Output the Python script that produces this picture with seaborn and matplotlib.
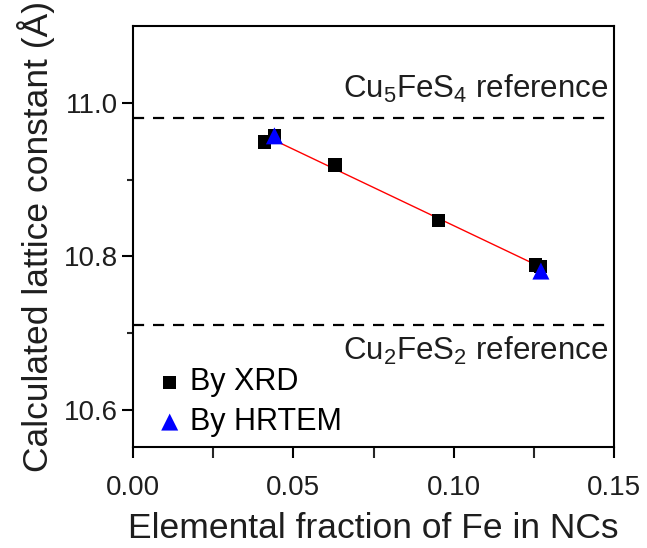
import numpy as np
import pandas as pd
import matplotlib
matplotlib.use("Agg")
import matplotlib.pyplot as plt
from matplotlib.ticker import MultipleLocator, FixedLocator
import seaborn as sns

# data
xrd_x = [0.0409, 0.0441, 0.0630, 0.0952, 0.1254, 0.1271]
xrd_y = [10.949, 10.957, 10.919, 10.847, 10.789, 10.787]
tem_x = [0.0441, 0.1272]
tem_y = [10.957, 10.781]
fit_range = [0.041, 0.1254]
ref_values = [10.980, 10.711]
ref_labels = ["Cu$_5$FeS$_4$ reference", "Cu$_2$FeS$_2$ reference"]

sns.set_theme(style="ticks")
plt.rcParams['font.family'] = ['Liberation Sans', 'DejaVu Sans']
plt.rcParams['mathtext.fontset'] = 'custom'
plt.rcParams['mathtext.rm'] = 'Liberation Sans'
plt.rcParams['mathtext.it'] = 'Liberation Sans'

TXT = "#1e1e1e"

fig = plt.figure(figsize=(6.47, 5.48), dpi=100)
ax = fig.add_axes([0.2056, 0.1843, 0.949 - 0.2056, 0.9526 - 0.1843])

df_xrd = pd.DataFrame({"x": xrd_x, "y": xrd_y})
df_tem = pd.DataFrame({"x": tem_x, "y": tem_y})

# fit line
coef = np.polyfit(xrd_x, xrd_y, 1)
fx = np.array(fit_range)
ax.plot(fx, np.polyval(coef, fx), color="#ff0000", lw=1.0, zorder=2)

sns.scatterplot(data=df_xrd, x="x", y="y", marker="s", s=90, color="black",
                edgecolor="none", ax=ax, label="By XRD", zorder=3)
sns.scatterplot(data=df_tem, x="x", y="y", marker="^", s=150, color="#0000ff",
                edgecolor="none", ax=ax, label="By HRTEM", zorder=4)

for v in ref_values:
    ax.axhline(v, color="black", lw=1.6, ls=(0, (5, 4)), zorder=1)

ax.text(0.1482, ref_values[0] + 0.017, ref_labels[0], ha="right", va="bottom",
        fontsize=22.5, color=TXT)
ax.text(0.1482, ref_values[1] - 0.013, ref_labels[1], ha="right", va="top",
        fontsize=22.5, color=TXT)

ax.set_xlim(0, 0.15)
ax.set_ylim(10.552, 11.1)
ax.xaxis.set_major_locator(FixedLocator([0.0, 0.05, 0.10, 0.15]))
ax.xaxis.set_minor_locator(MultipleLocator(0.025))
ax.yaxis.set_major_locator(FixedLocator([10.6, 10.8, 11.0]))
ax.yaxis.set_minor_locator(FixedLocator([10.7, 10.9]))
ax.set_xticklabels(["0.00", "0.05", "0.10", "0.15"])
ax.set_yticklabels(["10.6", "10.8", "11.0"])
ax.tick_params(axis="both", which="major", labelsize=20, length=8, width=1.5,
               direction="out", colors="black", labelcolor=TXT)
ax.tick_params(axis="x", which="major", pad=12)
ax.tick_params(axis="y", which="major", pad=3)
ax.tick_params(axis="x", which="minor", length=8, width=1.5, direction="out")
ax.tick_params(axis="y", which="minor", length=4, width=1.5, direction="out")

for sp in ax.spines.values():
    sp.set_linewidth(1.5)
    sp.set_color("black")

ax.set_xlabel("Elemental fraction of Fe in NCs", fontsize=25.5, color=TXT, labelpad=8)
ax.set_ylabel("Calculated lattice constant (Å)", fontsize=25.5, color=TXT, labelpad=6)

leg = ax.legend(loc="lower left", frameon=False, fontsize=22, handletextpad=0.05,
                labelspacing=0.32, borderaxespad=0.2, handlelength=1.2,
                bbox_to_anchor=(0.0, -0.02))
for t in leg.get_texts():
    t.set_color("black")

fig.savefig("out.png", dpi=100)
